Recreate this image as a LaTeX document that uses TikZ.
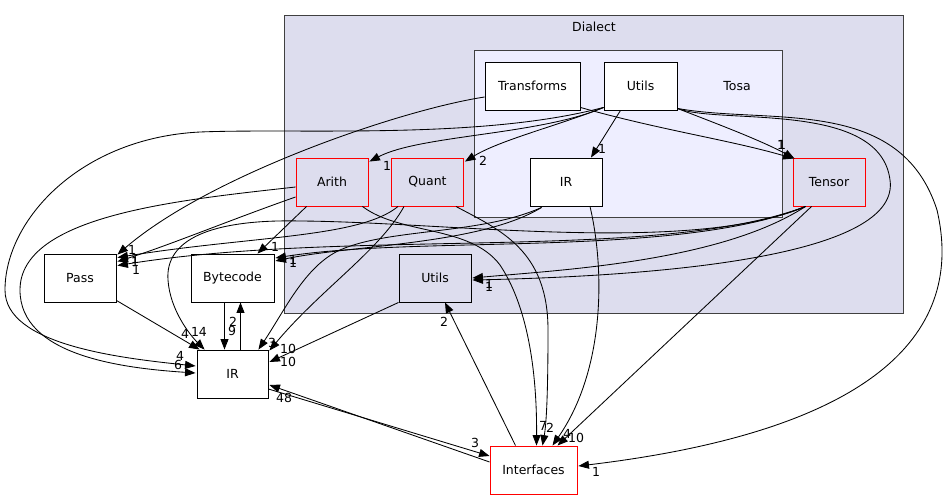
\documentclass[tikz,border=0pt]{standalone}
\usepackage{fontspec}
\setmainfont{DejaVu Sans}
\usetikzlibrary{arrows.meta,calc}
\definecolor{dlfill}{HTML}{DDDDEE}
\definecolor{tsfill}{HTML}{EEEEFF}
\definecolor{bord}{HTML}{404040}
\begin{document}
\begin{tikzpicture}[x=1pt,y=-1pt,
  font=\fontsize{12.5}{14}\selectfont,
  box/.style={draw=black, line width=0.9pt, minimum width=72pt, minimum height=48pt, inner sep=0pt, fill=white},
  dbox/.style={box, fill=dlfill},
  rbox/.style={box, fill=dlfill, draw=red},
  dep/.style={draw=black, line width=0.85pt, -{Triangle[length=10.5pt,width=8pt]}},
  lab/.style={inner sep=0pt},
  cluster/.style={draw=bord, line width=1pt}]
\fill[white] (0,0) rectangle (945,500);
\useasboundingbox (0,0) rectangle (945,500);

% clusters
\filldraw[cluster, fill=dlfill] (284,16) rectangle (903,313);
\node[lab] (dialectlab) at (594,27) {Dialect};
\filldraw[cluster, fill=tsfill] (474,51) rectangle (782,217);
\node[lab] (tosalab) at (737,86) {Tosa};

% nodes
\node[box, minimum width=95pt] (tr) at (532.5,86) {Transforms};
\node[box, minimum width=73pt] (tu) at (640.5,86) {Utils};
\node[box] (tir) at (566,182) {IR};
\node[rbox] (arith) at (332,182) {Arith};
\node[rbox] (quant) at (427.5,182) {Quant};
\node[rbox] (tensor) at (829,182) {Tensor};
\node[dbox] (du) at (435,278) {Utils};
\node[box] (pass) at (80,278) {Pass};
\node[box, minimum width=83pt] (byte) at (232.5,278) {Bytecode};
\node[box, minimum width=71pt] (ir) at (232.5,374) {IR};
\node[box, draw=red, minimum width=87pt] (intf) at (533.5,470) {Interfaces};

% edges from Tosa/Transforms
\draw[dep] ($(tr.west)+(0,11)$) .. controls (400,110) and (210,175) .. ($(pass.north east)+(1,1)$);
\draw[dep] ($(tr.south east)+(0,-3)$) .. controls (660,130) and (730,140) .. ($(tensor.north west)+(1,1)$);

% edges from Tosa/Utils
\draw[dep] ($(tu.south)+(-20,0)$) -- ($(tir.north)+(25,0)$);
\draw[dep] ($(tu.south west)+(0,-3)$) .. controls (540,135) and (420,135) .. ($(arith.north east)+(1,4)$);
\draw[dep] ($(tu.south west)+(0,-3)$) .. controls (560,125) and (500,140) .. ($(quant.north east)+(1,4)$);
\draw[dep] ($(tu.south east)+(0,-2)$) .. controls (720,125) and (760,140) .. ($(tensor.north west)+(2,1)$);
\draw[dep] ($(tu.south west)+(0,-3)$) .. controls (480,140) and (300,128) .. (200,132)
  .. controls (80,138) and (5,220) .. (5,290) .. controls (5,345) and (120,358) .. ($(ir.west)+(-1,-8)$);
\draw[dep] ($(tu.south east)+(0,-2)$) .. controls (720,125) and (880,100) .. (890,180)
  .. controls (900,250) and (700,275) .. ($(du.east)+(1,2)$);
\draw[dep] ($(tu.south east)+(0,-2)$) .. controls (770,125) and (900,95) .. (937,210)
  .. controls (965,330) and (880,430) .. ($(intf.east)+(1,-4)$);

% edges from Tosa/IR
\draw[dep] ($(tir.south west)+(12,1)$) .. controls (480,235) and (390,228) .. (340,250)
  .. controls (305,266) and (285,310) .. ($(ir.north east)+(-10,0)$);
\draw[dep] ($(tir.south west)+(12,1)$) .. controls (480,245) and (350,245) .. ($(byte.east)+(1,-17)$);
\draw[dep] ($(tir.south)+(24,0)$) .. controls (605,270) and (605,370) .. ($(intf.north)+(19,0)$);

% edges from Arith
\draw[dep] ($(arith.west)+(0,5)$) .. controls (180,200) and (20,215) .. (20,290)
  .. controls (20,355) and (120,368) .. ($(ir.west)+(-1,-1)$);
\draw[dep] ($(arith.west)+(0,15)$) .. controls (230,220) and (170,245) .. ($(pass.north east)+(1,8)$);
\draw[dep] ($(arith.south west)+(11,0)$) -- ($(byte.north)+(25,0)$);
\draw[dep] ($(arith.south east)+(-6,0)$) .. controls (400,235) and (470,225) .. (500,265)
  .. controls (530,310) and (537,380) .. ($(intf.north)+(3,0)$);

% edges from Quant
\draw[dep] ($(quant.south west)+(7,0)$) .. controls (360,238) and (250,236) .. ($(pass.north east)+(1,4)$);
\draw[dep] ($(quant.south west)+(13,0)$) .. controls (380,250) and (320,290) .. ($(ir.north east)+(1,1)$);
\draw[dep] ($(quant.south east)+(-8,0)$) .. controls (500,230) and (548,250) .. (548,330)
  .. controls (548,380) and (547,420) .. ($(intf.north)+(9,0)$);

% edges from Tensor
\draw[dep] ($(tensor.south west)+(13,0)$) .. controls (690,255) and (450,222) .. (300,221)
  .. controls (210,219) and (165,240) .. (168,280) .. controls (170,310) and (190,335) .. ($(ir.north west)+(8,0)$);
\draw[dep] ($(tensor.south west)+(13,0)$) .. controls (680,258) and (420,235) .. ($(byte.east)+(1,-20)$);
\draw[dep] ($(tensor.south west)+(13,0)$) .. controls (660,262) and (350,228) .. ($(pass.north east)+(1,12)$);
\draw[dep] ($(tensor.south west)+(13,0)$) .. controls (720,262) and (560,270) .. ($(du.east)+(1,0)$);
\draw[dep] ($(tensor.south west)+(19,0)$) -- ($(intf.north)+(24,0)$);

% other edges
\draw[dep] ($(du.south west)+(0,0)$) -- ($(ir.east)+(1,-12)$);
\draw[dep] ($(intf.north)+(-18,0)$) -- ($(du.south)+(10,0)$);
\draw[dep] ($(pass.south east)+(0,-2)$) -- ($(ir.north west)+(3,0)$);
\draw[dep] ($(byte.south)+(-8,0)$) -- ($(ir.north)+(-8,0)$);
\draw[dep] ($(ir.north)+(8,0)$) -- ($(byte.south)+(8,0)$);
\draw[dep] ($(ir.east)+(0,15)$) -- ($(intf.west)+(0,-14)$);
\draw[dep] ($(intf.west)+(0,-8)$) -- ($(ir.east)+(1,11)$);

% labels
\node[lab] (l01) at (132,250) {1};
\node[lab] (l02) at (135,259) {1};
\node[lab] (l03) at (135,262) {1};
\node[lab] (l04) at (136,270) {1};
\node[lab] (l05) at (781,145) {1};
\node[lab] (l06) at (782,145) {1};
\node[lab] (l07) at (602,149) {1};
\node[lab] (l08) at (387,166) {1};
\node[lab] (l09) at (483,161) {2};
\node[lab] (l10) at (275,247) {1};
\node[lab] (l11) at (293,260) {1};
\node[lab] (l12) at (293,263) {1};
\node[lab] (l13) at (489,284) {1};
\node[lab] (l14) at (489,287) {1};
\node[lab] (l15) at (185,334) {4};
\node[lab] (l16) at (199,332) {14};
\node[lab] (l17) at (233,322) {2};
\node[lab] (l18) at (232,331) {9};
\node[lab] (l19) at (272,343) {3};
\node[lab] (l20) at (288,349) {10};
\node[lab] (l21) at (288,362) {10};
\node[lab] (l22) at (180,356) {4};
\node[lab] (l23) at (178,365) {6};
\node[lab] (l24) at (284,398) {48};
\node[lab] (l25) at (444,322) {2};
\node[lab] (l26) at (543,426) {7};
\node[lab] (l27) at (550,428) {2};
\node[lab] (l28) at (567,434) {4};
\node[lab] (l29) at (576,438) {10};
\node[lab] (l30) at (475,443) {3};
\node[lab] (l31) at (596,472) {1};
\end{tikzpicture}
\end{document}
